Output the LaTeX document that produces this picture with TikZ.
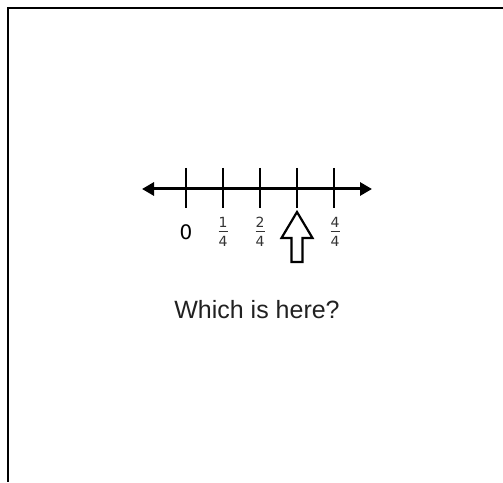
\documentclass[tikz,border=0pt]{standalone}
\usepackage{fontspec}
\setmainfont{Liberation Sans}
\newfontfamily\verd{DejaVu Sans}
\usetikzlibrary{arrows.meta}
\begin{document}
\begin{tikzpicture}[x=1pt,y=1pt,
  frameline/.style={line width=2.5pt},
  axisline/.style={line width=3pt,{Triangle[length=12pt,width=13pt]}-{Triangle[length=12pt,width=13pt]}},
  tickline/.style={line width=2pt},
  lbl/.style={font=\verd\fontsize{20}{22}\selectfont,inner sep=0pt},
  fracnum/.style={font=\verd\fontsize{14}{15}\selectfont,text=black!80,inner sep=0pt},
  fracbar/.style={line width=1pt,draw=black!80},
  pointer/.style={line width=2.2pt,line join=miter}]
\useasboundingbox (0,0) rectangle (503,482);
% frame
\coordinate (fTR) at (503,474);
\coordinate (fTL) at (8,474);
\coordinate (fBL) at (8,0);
\draw[frameline] (fTR) -- (fTL) -- (fBL);
% number line
\coordinate (L) at (142,293);
\coordinate (R) at (372,293);
\draw[axisline] (L) -- (R);
\foreach \i/\x in {0/186,1/223,2/260,3/297,4/334}{
  \coordinate (t\i a) at (\x,314);
  \coordinate (t\i b) at (\x,274);
  \draw[tickline] (t\i a) -- (t\i b);
}
\node[lbl] (z) at (186,250) {0};
\foreach \n/\x in {1/223,2/260,4/335}{
  \node[fracnum] (n\n) at (\x,259.5) {\n};
  \node[fracnum] (d\n) at (\x,240.5) {4};
  \coordinate (b\n l) at (\x-4.5,250);
  \coordinate (b\n r) at (\x+4.5,250);
  \draw[fracbar] (b\n l) -- (b\n r);
}
% hollow arrow
\draw[pointer] (297,270) -- (312.5,244) -- (302.5,244) -- (302.5,220) -- (291.5,220) -- (291.5,244) -- (281.5,244) -- cycle;
\node[font=\fontsize{25}{28}\selectfont,text=black!87] (q) at (257,172) {Which is here?};
\end{tikzpicture}
\end{document}
